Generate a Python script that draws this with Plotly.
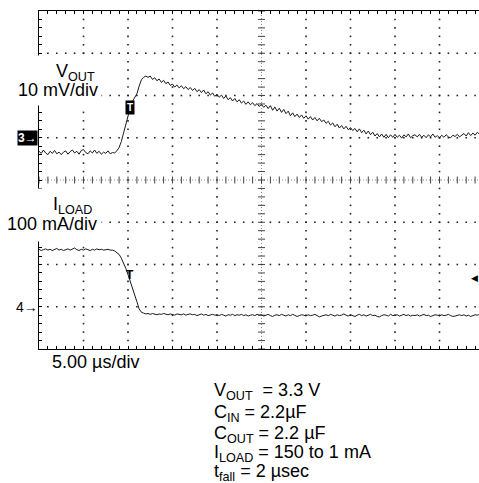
import numpy as np
import plotly.graph_objects as go

# ---------------- data ----------------
SAMPLE_US = 0.25          # sample spacing of the traces, µs
US_PER_DIV = 5.0          # 5.00 µs/div
VOUT_MV_PER_DIV = 10.0    # 10 mV/div
ILOAD_MA_PER_DIV = 100.0  # 100 mA/div
VOUT_REF_DIV = 1.0        # "3->" channel marker (divisions from centre)
ILOAD_REF_DIV = -3.0      # "4->" channel marker
TRIG_LEVEL_DIV = -2.32    # right-hand trigger-level marker
TRIG_T_US = 10.25         # trigger position "T"

# VOUT deviation, mV relative to channel-3 marker (one row = 2.5 µs)
vout_mv = [
    -3.2, -3.7, -2.9, -3.6, -4.0, -3.2, -3.7, -3.0, -3.8, -3.4,
    -4.0, -3.4, -3.1, -3.9, -3.3, -2.9, -3.6, -3.2, -3.9, -3.0,
    -2.8, -3.5, -3.8, -3.1, -3.6, -2.9, -3.7, -3.2, -3.9, -3.4,
    -3.7, -3.1, -3.8, -3.5, -3.6, -3.1, -2.3, -0.9, 1.1, 3.2,
    5.2, 7.1, 8.6, 9.4, 10.4, 12.2, 13.7, 14.3, 14.6, 14.3,
    14.6, 13.8, 14.2, 13.5, 13.9, 13.1, 13.6, 12.8, 13.2, 12.4,
    12.7, 12.0, 12.5, 11.8, 12.3, 11.6, 12.1, 11.4, 11.9, 11.2,
    11.7, 10.9, 11.4, 10.7, 11.3, 10.4, 10.9, 10.1, 10.6, 9.8,
    10.3, 9.6, 10.1, 9.3, 9.9, 9.0, 9.5, 8.7, 9.3, 8.5,
    9.0, 8.2, 8.7, 7.9, 8.5, 7.8, 8.3, 7.6, 8.1, 7.4,
    7.9, 7.2, 7.7, 6.9, 7.6, 6.5, 7.3, 6.3, 7.0, 6.0,
    6.7, 5.7, 6.3, 5.2, 5.9, 5.0, 5.6, 4.8, 5.4, 4.6,
    5.2, 4.4, 5.0, 4.2, 4.8, 4.0, 4.6, 3.8, 4.2, 3.4,
    3.9, 3.0, 3.5, 2.6, 3.2, 2.3, 2.9, 2.1, 2.7, 1.9,
    2.4, 1.7, 2.2, 1.4, 2.1, 1.2, 1.8, 0.9, 1.6, 0.7,
    1.3, 0.4, 1.0, 0.2, 0.9, 0.1, 0.8, 0.0, 0.7, 0.1,
    0.8, 0.1, 0.6, -0.1, 0.7, 0.2, 0.9, 0.0, 0.5, 0.7,
    0.2, 0.8, 0.1, 0.6, 0.0, 0.7, 0.2, 0.9, 0.1, 0.5,
    0.0, 0.6, 0.1, 0.7, 0.2, 0.0, 0.6, 0.3, 0.8, 0.2,
    0.7, 1.0, 0.4, 1.2, 0.5, 1.1, 0.6, 1.3, 0.8,
]

# ILOAD, mA relative to channel-4 marker (one row = 2.5 µs)
iload_ma = [
    136, 133, 135, 137, 134, 136, 133, 135, 138, 134,
    136, 133, 135, 137, 134, 136, 139, 135, 133, 136,
    134, 137, 135, 133, 136, 134, 137, 135, 136, 134,
    135, 136, 134, 134, 132, 129, 124, 115, 104, 91,
    76, 61, 45, 29, 12, -5, -13, -15, -17, -16,
    -18, -16, -17, -19, -17, -18, -16, -18, -19, -17,
    -18, -20, -17, -18, -19, -17, -20, -18, -17, -19,
    -18, -21, -19, -17, -20, -18, -21, -19, -18, -20,
    -19, -21, -18, -20, -22, -19, -20, -18, -21, -19,
    -20, -18, -21, -19, -22, -20, -19, -21, -18, -20,
    -19, -22, -20, -18, -21, -23, -20, -19, -21, -18,
    -20, -22, -19, -21, -18, -20, -23, -21, -19, -20,
    -22, -19, -21, -20, -18, -21, -24, -22, -20, -19,
    -21, -18, -20, -22, -19, -21, -20, -17, -20, -22,
    -19, -21, -23, -20, -18, -21, -19, -22, -20, -18,
    -21, -20, -23, -24, -21, -19, -20, -22, -18, -21,
    -20, -19, -22, -20, -18, -21, -19, -22, -20, -21,
    -19, -22, -20, -18, -21, -20, -23, -21, -19, -20,
    -22, -19, -21, -20, -18, -21, -23, -22, -20, -19,
    -21, -19, -22, -20, -23, -21, -19, -20, -18,
]

param_lines = [
    "V<sub>OUT</sub>\u00a0 = 3.3 V",
    "C<sub>IN</sub> = 2.2µF",
    "C<sub>OUT</sub> = 2.2 µF",
    "I<sub>LOAD</sub> = 150 to 1 mA",
    "t<sub>fall</sub> = 2 µsec",
]

# ---------------- derived ----------------
t_us = np.arange(len(vout_mv)) * SAMPLE_US
vout_div = VOUT_REF_DIV + np.array(vout_mv) / VOUT_MV_PER_DIV
iload_div = ILOAD_REF_DIV + np.array(iload_ma) / ILOAD_MA_PER_DIV

W, H = 479, 483
ML, MT = 39, 11
PLOT_W, PLOT_H = W - ML, 338
MB = H - MT - PLOT_H
N_XDIV_FULL = 10
DIV_PX = 44.5
X_MAX = PLOT_W / DIV_PX * US_PER_DIV
FONT = "Liberation Sans, Arial, Helvetica, sans-serif"
CX = US_PER_DIV * N_XDIV_FULL / 2


def px_x(p):
    return (p - ML) / PLOT_W


def px_y(p):
    return (MT + PLOT_H - p) / PLOT_H


fig = go.Figure()

# graticule dots (every minor division along each major line)
minor_x = np.arange(0, X_MAX, US_PER_DIV / 5)
minor_y = np.round(np.arange(-4, 4.001, 0.2), 3)
major_x = [v for v in np.arange(US_PER_DIV, X_MAX, US_PER_DIV) if abs(v - CX) > 1e-6]
major_y = [v for v in range(-3, 4) if v != 0]
gx, gy = [], []
for xv in major_x:
    for yv in minor_y[1:-1]:
        gx.append(xv); gy.append(yv)
for yv in major_y:
    for xv in minor_x[1:]:
        gx.append(xv); gy.append(yv)
fig.add_trace(go.Scatter(x=gx, y=gy, mode="markers",
                         marker=dict(symbol="square", size=1.6, color="#222", line=dict(width=0)),
                         hoverinfo="skip", showlegend=False))

# graticule centre lines
fig.add_shape(type="line", x0=CX, x1=CX, y0=-4, y1=4, xref="x", yref="y",
              line=dict(color="#888", width=1, dash="1px,2px"), layer="below")
fig.add_shape(type="line", x0=0, x1=X_MAX, y0=0, y1=0, xref="x", yref="y",
              line=dict(color="#888", width=1, dash="1px,2px"), layer="below")
fig.add_trace(go.Scatter(x=minor_x, y=np.zeros_like(minor_x), mode="markers",
                         marker=dict(symbol="line-ns", size=5, line=dict(color="#444", width=1)),
                         hoverinfo="skip", showlegend=False))
fig.add_trace(go.Scatter(x=np.full_like(minor_y, CX), y=minor_y, mode="markers",
                         marker=dict(symbol="line-ew", size=5, line=dict(color="#444", width=1)),
                         hoverinfo="skip", showlegend=False))

# traces
fig.add_trace(go.Scatter(x=t_us, y=vout_div, mode="lines", name="VOUT",
                         line=dict(color="#1a1a1a", width=1), showlegend=False))
fig.add_trace(go.Scatter(x=t_us, y=iload_div, mode="lines", name="ILOAD",
                         line=dict(color="#1a1a1a", width=1), showlegend=False))

fig.update_layout(
    width=W, height=H,
    margin=dict(l=ML, r=0, t=MT, b=MB, pad=0),
    paper_bgcolor="white", plot_bgcolor="white",
    font=dict(family=FONT, size=18, color="black"),
    showlegend=False,
    xaxis=dict(range=[0, X_MAX], showticklabels=False, zeroline=False, showgrid=False,
               tick0=0, dtick=US_PER_DIV, ticks="inside", ticklen=3, tickcolor="black",
               minor=dict(dtick=US_PER_DIV / 5, ticks="inside", ticklen=3, tickcolor="black", showgrid=False),
               showline=True, linecolor="black", linewidth=1, mirror="ticks", fixedrange=True),
    yaxis=dict(range=[-4, 4], showticklabels=False, zeroline=False, showgrid=False,
               tick0=0, dtick=1, ticks="inside", ticklen=3, tickcolor="black",
               minor=dict(dtick=0.2, ticks="inside", ticklen=3, tickcolor="black", showgrid=False),
               showline=True, linecolor="black", linewidth=1, mirror=False, fixedrange=True),
)

ann = []
# white label backgrounds
ann.append(dict(xref="paper", yref="paper", x=px_x(0), y=px_y(55), xanchor="left", yanchor="top",
                text=" ", width=100, height=49, bgcolor="white", borderpad=0, showarrow=False))
ann.append(dict(xref="paper", yref="paper", x=px_x(0), y=px_y(188), xanchor="left", yanchor="top",
                text=" ", width=100, height=52, bgcolor="white", borderpad=0, showarrow=False))


def label(text, left, cy, size=18, **kw):
    d = dict(xref="paper", yref="paper", x=px_x(left), y=px_y(cy), xanchor="left",
             yanchor="middle", text=text, showarrow=False, borderpad=0,
             font=dict(family=FONT, size=size, color="black"))
    d.update(kw)
    return d


ann.append(label("V<sub>OUT</sub>", 55, 72))
ann.append(label("10 mV/div", 17, 90))
ann.append(label("I<sub>LOAD</sub>", 52, 206))
ann.append(label("100 mA/div", 6, 224))
ann.append(label("5.00 µs/div", 51, 362))
for i, txt in enumerate(param_lines):
    ann.append(label(txt, 213, [391, 413, 434, 453, 472][i]))

# channel markers
ann.append(dict(xref="paper", yref="y", x=px_x(38), y=VOUT_REF_DIV, xanchor="right", yanchor="middle",
                text="<b>3→</b>", bgcolor="black", borderpad=0, showarrow=False,
                font=dict(family=FONT, size=12, color="white")))
ann.append(dict(xref="paper", yref="y", x=px_x(39), y=ILOAD_REF_DIV, xanchor="right", yanchor="middle",
                text="4→", showarrow=False, borderpad=0,
                font=dict(family=FONT, size=14, color="black")))
# trigger markers
ann.append(dict(xref="x", yref="y", x=TRIG_T_US, y=VOUT_REF_DIV + 0.72, xanchor="center", yanchor="middle",
                text="<b>T</b>", bgcolor="black", borderpad=1, showarrow=False,
                font=dict(family=FONT, size=10, color="white")))
ann.append(dict(xref="x", yref="y", x=TRIG_T_US, y=-2.25, xanchor="center", yanchor="middle",
                text="<b>T</b>", showarrow=False, borderpad=0,
                font=dict(family=FONT, size=12, color="black")))
ann.append(dict(xref="paper", yref="y", x=1.0, y=TRIG_LEVEL_DIV, xanchor="right", yanchor="middle",
                text="◀", showarrow=False, borderpad=0,
                font=dict(family="DejaVu Sans", size=9, color="black")))

fig.update_layout(annotations=ann)

fig.write_html("out.html", config={"displayModeBar": False, "staticPlot": True},
               post_script="document.body.style.margin='0';")
